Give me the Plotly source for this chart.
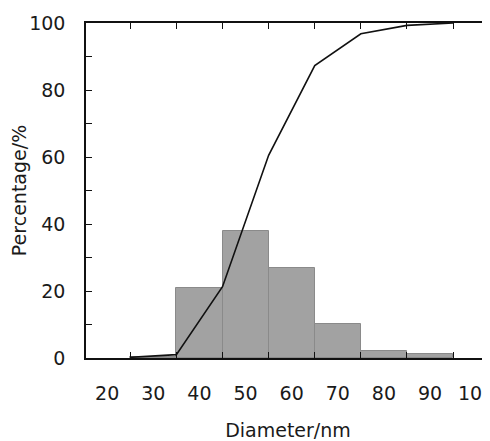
import plotly.graph_objects as go

# Histogram bins (centers, nm) and percentage per bin
bin_centers = [30, 40, 50, 60, 70, 80, 90]
bin_percent = [0.4, 21, 37.8, 27, 10.2, 2.2, 1.2]

# Cumulative curve (bin upper edges, nm)
cum_x = [25, 35, 45, 55, 65, 75, 85, 95]
cum_y = [0.2, 1.0, 21.3, 60.5, 87.3, 96.8, 99.3, 100]

x_labels = [20, 30, 40, 50, 60, 70, 80, 90, 100]
x_edges = [25, 35, 45, 55, 65, 75, 85, 95]
y_major = [0, 20, 40, 60, 80, 100]
y_minor = [10, 30, 50, 70, 90]

x_range = [15.4, 103.0]

fig = go.Figure()
fig.add_trace(go.Bar(
    x=bin_centers, y=bin_percent, width=10,
    marker=dict(color="#a2a2a2", line=dict(color="#8a8a8a", width=1)),
    showlegend=False,
))
fig.add_trace(go.Scatter(
    x=cum_x, y=cum_y, mode="lines",
    line=dict(color="#111111", width=1.6),
    showlegend=False,
))

font_family = "DejaVu Sans, Arial, sans-serif"
axis_col = "#111111"
# page body has an 8px margin, so the figure is sized/offset to compensate
fig.update_layout(
    width=482, height=433,
    margin=dict(l=78, r=0, t=15, b=83),
    paper_bgcolor="white", plot_bgcolor="white",
    bargap=0,
    font=dict(family=font_family, size=19, color="#1a1a1a"),
    xaxis=dict(
        range=x_range, automargin=False,
        tickmode="array", tickvals=x_labels, ticktext=[str(v) for v in x_labels],
        ticks="", showgrid=False, zeroline=False,
        showline=True, linecolor=axis_col, linewidth=1.6,
        ticklabelstandoff=17, ticklabeloverflow="allow",
        minor=dict(tickmode="array", tickvals=x_edges, ticks="inside",
                   ticklen=6, tickwidth=1.3, tickcolor=axis_col, showgrid=False),
        title=dict(text="Diameter/nm", standoff=23, font=dict(size=19)),
        tickfont=dict(size=19),
    ),
    xaxis2=dict(
        range=x_range, overlaying="x", side="top", automargin=False,
        tickmode="array", tickvals=x_edges, showticklabels=False,
        ticks="inside", ticklen=6, tickwidth=1.3, tickcolor=axis_col,
        showgrid=False, zeroline=False,
        showline=True, linecolor=axis_col, linewidth=1.6,
    ),
    yaxis=dict(
        range=[0, 100], automargin=False,
        tickmode="array", tickvals=y_major,
        ticks="inside", ticklen=6, tickwidth=1.3, tickcolor=axis_col,
        showgrid=False, zeroline=False,
        showline=True, linecolor=axis_col, linewidth=1.6,
        ticklabelstandoff=15,
        minor=dict(tickmode="array", tickvals=y_minor, ticks="inside",
                   ticklen=6, tickwidth=1.3, tickcolor=axis_col, showgrid=False),
        title=dict(text="Percentage/%", standoff=0, font=dict(size=19)),
        tickfont=dict(size=19),
    ),
)
# invisible trace to activate the top axis
fig.add_trace(go.Scatter(x=[x_range[0]], y=[0], xaxis="x2", mode="markers",
                         marker=dict(opacity=0), showlegend=False, hoverinfo="skip"))

fig.write_html("out.html")
